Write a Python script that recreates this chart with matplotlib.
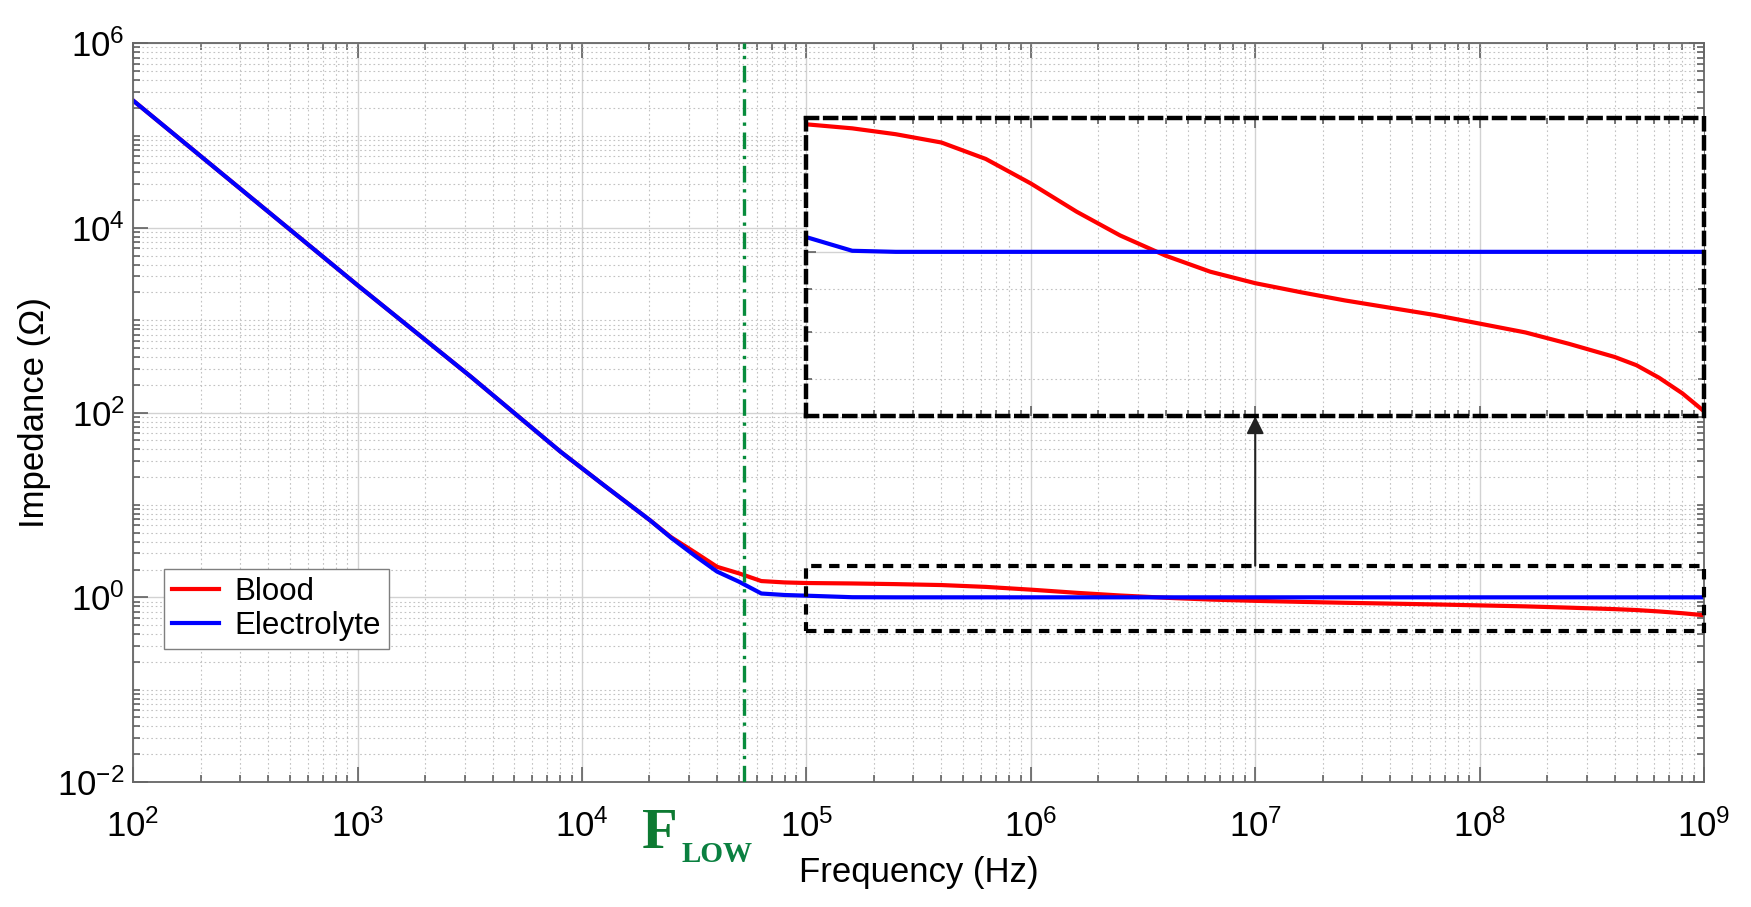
import numpy as np
import matplotlib.pyplot as plt
from matplotlib.ticker import LogLocator, NullFormatter, FuncFormatter
from matplotlib.patches import Rectangle

plt.rcParams['font.family'] = ['Liberation Sans', 'DejaVu Sans']
plt.rcParams['mathtext.fontset'] = 'custom'
plt.rcParams['mathtext.rm'] = 'Liberation Sans'
plt.rcParams['mathtext.it'] = 'Liberation Sans:italic'
plt.rcParams['mathtext.bf'] = 'Liberation Sans:bold'
plt.rcParams['mathtext.default'] = 'regular'


# impedance spectra (Hz, Ohm)
freq_hz = [1e2, 1e3, 3.2e3, 8e3, 1.26e4, 2e4, 2.5e4, 3.2e4, 4e4, 5e4, 6.3e4, 8e4,
           1e5, 1.6e5, 2.5e5, 4e5, 6.3e5, 1e6, 1.6e6, 2.5e6, 4e6, 6.3e6,
           1e7, 1.6e7, 2.5e7, 4e7, 6.3e7, 1e8, 1.6e8, 2.5e8, 4e8, 5e8,
           6.3e8, 8e8, 1e9]

z_blood = [2.4e5, 2400, 245, 38, 16.2, 6.9, 4.47, 3.05, 2.14, 1.82, 1.50, 1.45,
           1.429, 1.413, 1.390, 1.358, 1.297, 1.211, 1.119, 1.047, 0.989, 0.946,
           0.916, 0.893, 0.873, 0.855, 0.838, 0.818, 0.798, 0.773, 0.745, 0.728,
           0.703, 0.673, 0.640]

z_electrolyte = [2.4e5, 2400, 245, 38, 16.2, 6.9, 4.4, 2.8, 1.9, 1.48, 1.10, 1.06,
                 1.042, 1.003, 1.0, 1.0, 1.0, 1.0, 1.0, 1.0, 1.0, 1.0,
                 1.0, 1.0, 1.0, 1.0, 1.0, 1.0, 1.0, 1.0, 1.0, 1.0,
                 1.0, 1.0, 1.0]

f_low = 5.27e4

zoom_xlim = (1e5, 1e9)
zoom_box_y = (0.43, 2.2)
zoom_ylim = (0.631, 1.455)

GREEN = '#078c3c'

pow10 = FuncFormatter(lambda v, pos: r'$10^{%d}$' % round(np.log10(v)))


def style_axes(ax, labels=True):
    ax.set_xscale('log')
    ax.set_yscale('log')
    ax.xaxis.set_major_locator(LogLocator(base=10, numticks=20))
    ax.xaxis.set_minor_locator(LogLocator(base=10, subs=np.arange(2, 10), numticks=20))
    ax.xaxis.set_minor_formatter(NullFormatter())
    ax.yaxis.set_minor_formatter(NullFormatter())
    ax.set_axisbelow(True)
    ax.grid(which='major', color='#d2d2d2', lw=1.0, ls='-')
    ax.grid(which='minor', color='#c2c2c2', lw=0.8, ls=(0, (1.5, 2.5)))
    ax.tick_params(which='both', direction='in', top=True, right=True,
                   color='#555555', width=1.1)
    ax.tick_params(which='minor', labelbottom=False, labelleft=False)
    if labels:
        ax.xaxis.set_major_formatter(pow10)
        ax.yaxis.set_major_formatter(pow10)
        ax.tick_params(which='major', length=11, labelsize=25)
        ax.tick_params(which='minor', length=5)
        ax.tick_params(axis='x', which='major', pad=20)
        ax.tick_params(axis='y', which='major', pad=6)
    else:
        ax.tick_params(which='major', length=7)
        ax.tick_params(which='minor', length=4)
        ax.tick_params(which='both', labelbottom=False, labelleft=False)


fig = plt.figure(figsize=(17.51, 9.07), dpi=100)
ax = fig.add_axes([0.076, 0.1378, 0.8972, 0.8145])

ax.plot(freq_hz, z_blood, color='red', lw=3, label='Blood')
ax.plot(freq_hz, z_electrolyte, color='blue', lw=3, label='Electrolyte')
style_axes(ax)
ax.yaxis.set_major_locator(LogLocator(base=100, numticks=20))
ax.yaxis.set_minor_locator(LogLocator(base=10, subs=np.arange(1, 10), numticks=40))
ax.set_xlim(1e2, 1e9)
ax.set_ylim(1e-2, 1e6)
for s in ax.spines.values():
    s.set_color('#666666')
    s.set_linewidth(1.3)

ax.set_xlabel('Frequency (Hz)', fontsize=25)
ax.xaxis.set_label_coords(0.5, -0.10)
ax.set_ylabel('Impedance (Ω)', fontsize=25)
ax.yaxis.set_label_coords(-0.052, 0.5)

# F_LOW marker
ax.axvline(f_low, color=GREEN, lw=2.4, ls=(0, (5, 2, 1, 2)), zorder=3)
ax.annotate('F', xy=(f_low, 0), xycoords=('data', 'axes fraction'),
            xytext=(-102, -66), textcoords='offset pixels',
            fontsize=42, fontweight='bold', family='Liberation Serif',
            color='#0d7a32', ha='left', va='baseline', annotation_clip=False)
ax.annotate('LOW', xy=(f_low, 0), xycoords=('data', 'axes fraction'),
            xytext=(-62, -80), textcoords='offset pixels',
            fontsize=21, fontweight='bold', family='Liberation Serif',
            color='#0a8040', ha='left', va='baseline', annotation_clip=False)

# zoom region box and arrow to the inset
ax.add_patch(Rectangle((zoom_xlim[0], zoom_box_y[0]),
                       zoom_xlim[1] - zoom_xlim[0], zoom_box_y[1] - zoom_box_y[0],
                       fill=False, ec='black', lw=3, ls=(0, (2.5, 1.8)),
                       clip_on=False, zorder=4))
ax.annotate('', xy=(1e7, 0.495), xycoords=('data', 'axes fraction'),
            xytext=(1e7, zoom_box_y[1]), textcoords='data',
            arrowprops=dict(arrowstyle='-|>', color='#222222', lw=1.5,
                            mutation_scale=26, shrinkA=0, shrinkB=0))

ax.legend(loc='lower left', bbox_to_anchor=(0.02, 0.18), fontsize=22.5,
          fancybox=False, edgecolor='#7f7f7f', framealpha=1,
          handlelength=1.5, handletextpad=0.5, borderpad=0.25,
          labelspacing=0.15, borderaxespad=0)

# inset
axin = ax.inset_axes([3 / 7, 0.495, 4 / 7, 0.404])
axin.plot(freq_hz, z_blood, color='red', lw=3)
axin.plot(freq_hz, z_electrolyte, color='blue', lw=3)
style_axes(axin, labels=False)
axin.yaxis.set_major_locator(LogLocator(base=10, numticks=20))
axin.yaxis.set_minor_locator(LogLocator(base=10, subs=np.arange(2, 10), numticks=20))
axin.set_xlim(*zoom_xlim)
axin.set_ylim(*zoom_ylim)
axin.set_facecolor('white')
for s in axin.spines.values():
    s.set_color('black')
    s.set_linewidth(3.2)
    s.set_linestyle((0, (2.5, 1.8)))

fig.savefig('out.png', dpi=100)
